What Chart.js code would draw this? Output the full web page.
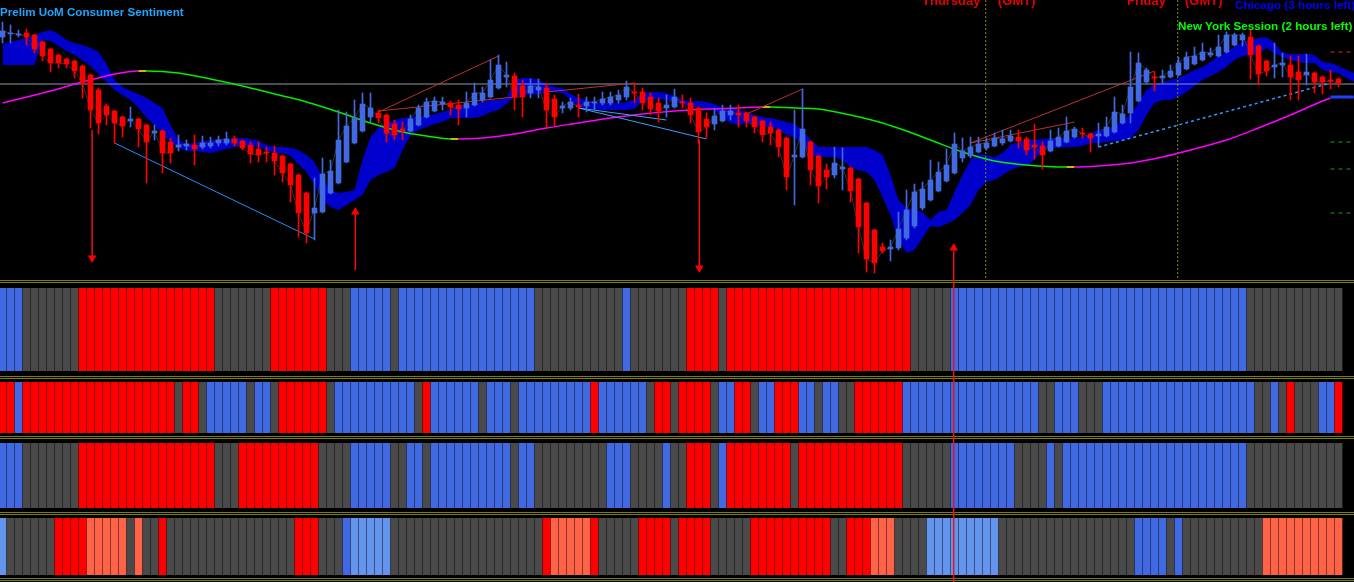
<!DOCTYPE html>
<html lang="en">
<head>
<meta charset="UTF-8">
<title>Prelim UoM Consumer Sentiment</title>
<style>
    body {
        margin: 0;
        background: #000;
        width: 1354px;
        height: 582px;
        overflow: hidden;
        position: relative;
        font-family: "Liberation Sans", Arial, sans-serif;
    }
    canvas { position: absolute; left: 0; display: block; }
    #main { top: 0; z-index: 2; }
    .strip { z-index: 1; }
    .sep { position: absolute; left: 0; width: 1354px; height: 1px; background: #808000; z-index: 1; }
    .lbl { position: absolute; font-weight: bold; white-space: nowrap; line-height: 1; z-index: 3; }
</style>
</head>
<body>
<canvas id="main" width="1354" height="582"></canvas>
<canvas id="s1" class="strip" width="1354" height="83" style="top:288px"></canvas>
<canvas id="s2" class="strip" width="1354" height="51" style="top:382px"></canvas>
<canvas id="s3" class="strip" width="1354" height="65" style="top:443px"></canvas>
<canvas id="s4" class="strip" width="1354" height="57" style="top:518px"></canvas>

<div class="sep" style="top:280px"></div><div class="sep" style="top:282px"></div>
<div class="sep" style="top:376px"></div><div class="sep" style="top:378px"></div>
<div class="sep" style="top:436px"></div><div class="sep" style="top:438px"></div>
<div class="sep" style="top:512px"></div><div class="sep" style="top:514px"></div>
<div class="sep" style="top:578px"></div><div class="sep" style="top:580px"></div>

<div class="lbl" style="left:0;top:6px;font-size:11.6px;color:#1ea5ff">Prelim UoM Consumer Sentiment</div>
<div class="lbl" style="left:922px;top:-6px;font-size:13px;color:#e60000">Thursday</div>
<div class="lbl" style="left:998px;top:-6px;font-size:13px;color:#e60000">(GMT)</div>
<div class="lbl" style="left:1127px;top:-6px;font-size:13px;color:#e60000">Friday</div>
<div class="lbl" style="left:1185px;top:-6px;font-size:13px;color:#e60000">(GMT)</div>
<div class="lbl" style="left:1235px;top:-1px;font-size:11.7px;color:#0000ff">Chicago (3 hours left)</div>
<div class="lbl" style="left:1178px;top:19.5px;font-size:11.7px;color:#00ff00">New York Session (2 hours left)</div>

<script src="https://cdn.jsdelivr.net/npm/chart.js@4/dist/chart.umd.min.js"></script>
<script>
// candles, one per bar (bar index = position in array)
const opens = [
    1.1963, 1.1966, 1.1965, 1.1967, 1.1965, 1.1958, 1.1951, 1.1945, 1.1941, 1.1939,
    1.1934, 1.1925, 1.1910, 1.1894, 1.1889, 1.1883, 1.1879, 1.1881, 1.1875, 1.1867,
    1.1869, 1.1858, 1.1853, 1.1854, 1.1855, 1.1853, 1.1854, 1.1857, 1.1857, 1.1861,
    1.1859, 1.1855, 1.1851, 1.1848, 1.1847, 1.1844, 1.1836, 1.1825, 1.1807, 1.1787,
    1.1788, 1.1807, 1.1817, 1.1838, 1.1857, 1.1869, 1.1883, 1.1887, 1.1885, 1.1876,
    1.1871, 1.1869, 1.1875, 1.1883, 1.1889, 1.1896, 1.1897, 1.1895, 1.1892, 1.1895,
    1.1900, 1.1903, 1.1912, 1.1923, 1.1924, 1.1914, 1.1907, 1.1910, 1.1912, 1.1901,
    1.1892, 1.1892, 1.1895, 1.1894, 1.1897, 1.1897, 1.1897, 1.1900, 1.1903, 1.1908,
    1.1908, 1.1903, 1.1897, 1.1892, 1.1893, 1.1898, 1.1897, 1.1892, 1.1881, 1.1876,
    1.1879, 1.1885, 1.1887, 1.1887, 1.1883, 1.1879, 1.1873, 1.1870, 1.1862, 1.1843,
    1.1843, 1.1858, 1.1844, 1.1830, 1.1825, 1.1831, 1.1832, 1.1821, 1.1797, 1.1770,
    1.1753, 1.1751, 1.1752, 1.1762, 1.1774, 1.1792, 1.1800, 1.1809, 1.1819, 1.1827,
    1.1842, 1.1844, 1.1848, 1.1852, 1.1854, 1.1857, 1.1859, 1.1863, 1.1861, 1.1855,
    1.1854, 1.1849, 1.1854, 1.1858, 1.1863, 1.1867, 1.1866, 1.1864, 1.1864, 1.1868,
    1.1877, 1.1887, 1.1899, 1.1918, 1.1923, 1.1922, 1.1923, 1.1925, 1.1931, 1.1936,
    1.1940, 1.1945, 1.1944, 1.1948, 1.1955, 1.1960, 1.1963, 1.1954, 1.1939, 1.1933,
    1.1935, 1.1935, 1.1928, 1.1925, 1.1927, 1.1923, 1.1920, 1.1921
];
const highs = [
    1.1978, 1.1975, 1.1970, 1.1971, 1.1966, 1.1959, 1.1952, 1.1946, 1.1942, 1.1940,
    1.1935, 1.1926, 1.1912, 1.1896, 1.1890, 1.1884, 1.1893, 1.1882, 1.1876, 1.1875,
    1.1870, 1.1862, 1.1865, 1.1860, 1.1865, 1.1864, 1.1863, 1.1864, 1.1868, 1.1864,
    1.1860, 1.1858, 1.1858, 1.1853, 1.1854, 1.1845, 1.1837, 1.1826, 1.1808, 1.1822,
    1.1842, 1.1840, 1.1890, 1.1888, 1.1900, 1.1907, 1.1907, 1.1890, 1.1886, 1.1880,
    1.1878, 1.1885, 1.1895, 1.1902, 1.1903, 1.1903, 1.1899, 1.1900, 1.1908, 1.1917,
    1.1913, 1.1940, 1.1945, 1.1938, 1.1927, 1.1920, 1.1921, 1.1921, 1.1917, 1.1905,
    1.1898, 1.1902, 1.1906, 1.1903, 1.1903, 1.1908, 1.1908, 1.1910, 1.1919, 1.1917,
    1.1912, 1.1907, 1.1902, 1.1905, 1.1911, 1.1905, 1.1902, 1.1893, 1.1887, 1.1892,
    1.1895, 1.1895, 1.1895, 1.1888, 1.1884, 1.1880, 1.1878, 1.1871, 1.1863, 1.1890,
    1.1911, 1.1859, 1.1845, 1.1836, 1.1853, 1.1852, 1.1833, 1.1822, 1.1798, 1.1771,
    1.1757, 1.1760, 1.1788, 1.1810, 1.1816, 1.1818, 1.1840, 1.1838, 1.1851, 1.1867,
    1.1862, 1.1863, 1.1863, 1.1862, 1.1867, 1.1870, 1.1870, 1.1870, 1.1863, 1.1876,
    1.1858, 1.1870, 1.1872, 1.1883, 1.1873, 1.1872, 1.1867, 1.1877, 1.1883, 1.1903,
    1.1895, 1.1948, 1.1947, 1.1932, 1.1928, 1.1930, 1.1935, 1.1943, 1.1948, 1.1953,
    1.1957, 1.1952, 1.1965, 1.1968, 1.1967, 1.1967, 1.1970, 1.1955, 1.1940, 1.1957,
    1.1947, 1.1944, 1.1944, 1.1946, 1.1928, 1.1924, 1.1930, 1.1922
];
const lows = [
    1.1957, 1.1957, 1.1963, 1.1955, 1.1947, 1.1939, 1.1928, 1.1932, 1.1932, 1.1922,
    1.1902, 1.1872, 1.1866, 1.1875, 1.1857, 1.1863, 1.1873, 1.1853, 1.1817, 1.1860,
    1.1827, 1.1837, 1.1849, 1.1850, 1.1835, 1.1851, 1.1852, 1.1854, 1.1855, 1.1854,
    1.1850, 1.1837, 1.1838, 1.1838, 1.1825, 1.1818, 1.1798, 1.1763, 1.1757, 1.1760,
    1.1787, 1.1806, 1.1816, 1.1837, 1.1856, 1.1868, 1.1878, 1.1877, 1.1858, 1.1860,
    1.1860, 1.1868, 1.1874, 1.1882, 1.1888, 1.1890, 1.1885, 1.1875, 1.1883, 1.1894,
    1.1898, 1.1902, 1.1911, 1.1913, 1.1890, 1.1883, 1.1902, 1.1902, 1.1873, 1.1874,
    1.1887, 1.1890, 1.1883, 1.1888, 1.1890, 1.1895, 1.1895, 1.1897, 1.1900, 1.1897,
    1.1890, 1.1885, 1.1878, 1.1883, 1.1892, 1.1892, 1.1877, 1.1857, 1.1862, 1.1870,
    1.1878, 1.1880, 1.1873, 1.1873, 1.1867, 1.1858, 1.1855, 1.1843, 1.1810, 1.1795,
    1.1842, 1.1815, 1.1797, 1.1811, 1.1822, 1.1810, 1.1798, 1.1747, 1.1728, 1.1727,
    1.1747, 1.1739, 1.1750, 1.1760, 1.1772, 1.1790, 1.1799, 1.1808, 1.1818, 1.1826,
    1.1838, 1.1842, 1.1847, 1.1850, 1.1853, 1.1855, 1.1858, 1.1852, 1.1845, 1.1841,
    1.1831, 1.1848, 1.1853, 1.1857, 1.1862, 1.1862, 1.1848, 1.1853, 1.1863, 1.1867,
    1.1876, 1.1877, 1.1898, 1.1916, 1.1909, 1.1917, 1.1922, 1.1924, 1.1930, 1.1935,
    1.1939, 1.1943, 1.1943, 1.1947, 1.1954, 1.1954, 1.1921, 1.1915, 1.1924, 1.1922,
    1.1923, 1.1900, 1.1900, 1.1915, 1.1907, 1.1906, 1.1911, 1.1913
];
const closes = [
    1.1969, 1.1967, 1.1966, 1.1963, 1.1951, 1.1944, 1.1937, 1.1937, 1.1936, 1.1929,
    1.1917, 1.1890, 1.1877, 1.1885, 1.1877, 1.1874, 1.1881, 1.1871, 1.1858, 1.1869,
    1.1847, 1.1847, 1.1855, 1.1856, 1.1851, 1.1857, 1.1857, 1.1860, 1.1861, 1.1857,
    1.1852, 1.1846, 1.1845, 1.1847, 1.1839, 1.1827, 1.1815, 1.1787, 1.1767, 1.1792,
    1.1826, 1.1829, 1.1860, 1.1874, 1.1882, 1.1896, 1.1892, 1.1882, 1.1867, 1.1865,
    1.1869, 1.1881, 1.1892, 1.1898, 1.1899, 1.1898, 1.1893, 1.1891, 1.1897, 1.1907,
    1.1907, 1.1920, 1.1935, 1.1925, 1.1903, 1.1903, 1.1914, 1.1913, 1.1890, 1.1883,
    1.1894, 1.1898, 1.1893, 1.1898, 1.1898, 1.1901, 1.1903, 1.1905, 1.1913, 1.1907,
    1.1897, 1.1891, 1.1889, 1.1895, 1.1903, 1.1897, 1.1885, 1.1868, 1.1873, 1.1884,
    1.1889, 1.1889, 1.1885, 1.1879, 1.1873, 1.1865, 1.1867, 1.1853, 1.1823, 1.1845,
    1.1871, 1.1830, 1.1814, 1.1823, 1.1837, 1.1833, 1.1809, 1.1773, 1.1741, 1.1737,
    1.1749, 1.1753, 1.1771, 1.1790, 1.1808, 1.1811, 1.1820, 1.1828, 1.1835, 1.1856,
    1.1849, 1.1853, 1.1856, 1.1857, 1.1862, 1.1861, 1.1864, 1.1859, 1.1850, 1.1853,
    1.1845, 1.1859, 1.1863, 1.1869, 1.1871, 1.1866, 1.1862, 1.1866, 1.1873, 1.1888,
    1.1886, 1.1913, 1.1937, 1.1930, 1.1922, 1.1924, 1.1929, 1.1937, 1.1943, 1.1944,
    1.1948, 1.1947, 1.1953, 1.1965, 1.1965, 1.1965, 1.1945, 1.1926, 1.1929, 1.1935,
    1.1937, 1.1923, 1.1920, 1.1928, 1.1918, 1.1918, 1.1919, 1.1917
];

// ichimoku cloud edges (runs 2 bars past the last candle)
const cloudTop = [
    1.1956, 1.1958, 1.1960, 1.1962, 1.1965, 1.1968, 1.1970, 1.1966, 1.1960, 1.1957,
    1.1955, 1.1952, 1.1948, 1.1936, 1.1920, 1.1913, 1.1909, 1.1906, 1.1902, 1.1897,
    1.1892, 1.1875, 1.1860, 1.1856, 1.1857, 1.1859, 1.1860, 1.1861, 1.1861, 1.1862,
    1.1862, 1.1861, 1.1859, 1.1855, 1.1853, 1.1853, 1.1852, 1.1850, 1.1845, 1.1838,
    1.1822, 1.1810, 1.1807, 1.1808, 1.1810, 1.1840, 1.1863, 1.1872, 1.1877, 1.1880,
    1.1882, 1.1883, 1.1883, 1.1884, 1.1886, 1.1888, 1.1890, 1.1894, 1.1895, 1.1896,
    1.1898, 1.1900, 1.1900, 1.1902, 1.1920, 1.1922, 1.1922, 1.1920, 1.1916, 1.1913,
    1.1912, 1.1906, 1.1902, 1.1900, 1.1897, 1.1897, 1.1897, 1.1897, 1.1898, 1.1900,
    1.1907, 1.1908, 1.1908, 1.1907, 1.1904, 1.1900, 1.1899, 1.1899, 1.1898, 1.1896,
    1.1892, 1.1891, 1.1890, 1.1888, 1.1885, 1.1883, 1.1882, 1.1880, 1.1878, 1.1876,
    1.1870, 1.1860, 1.1853, 1.1853, 1.1853, 1.1853, 1.1853, 1.1853, 1.1853, 1.1850,
    1.1845, 1.1825, 1.1800, 1.1792, 1.1790, 1.1788, 1.1780, 1.1788, 1.1790, 1.1808,
    1.1825, 1.1840, 1.1846, 1.1845, 1.1843, 1.1847, 1.1855, 1.1858, 1.1860, 1.1860,
    1.1861, 1.1862, 1.1862, 1.1862, 1.1862, 1.1863, 1.1867, 1.1870, 1.1872, 1.1873,
    1.1880, 1.1885, 1.1897, 1.1910, 1.1916, 1.1918, 1.1920, 1.1922, 1.1926, 1.1930,
    1.1933, 1.1938, 1.1944, 1.1948, 1.1953, 1.1958, 1.1960, 1.1962, 1.1963, 1.1957,
    1.1947, 1.1946, 1.1946, 1.1946, 1.1945, 1.1938, 1.1937, 1.1934, 1.1930, 1.1927
];
const cloudBottom = [
    1.1935, 1.1935, 1.1935, 1.1935, 1.1935, 1.1960, 1.1959, 1.1954, 1.1949, 1.1945,
    1.1940, 1.1934, 1.1926, 1.1918, 1.1910, 1.1905, 1.1900, 1.1892, 1.1882, 1.1875,
    1.1866, 1.1858, 1.1852, 1.1849, 1.1849, 1.1848, 1.1847, 1.1849, 1.1851, 1.1853,
    1.1854, 1.1854, 1.1853, 1.1850, 1.1847, 1.1847, 1.1844, 1.1836, 1.1828, 1.1815,
    1.1800, 1.1793, 1.1790, 1.1795, 1.1800, 1.1805, 1.1820, 1.1825, 1.1828, 1.1832,
    1.1850, 1.1865, 1.1870, 1.1873, 1.1876, 1.1878, 1.1882, 1.1882, 1.1882, 1.1882,
    1.1884, 1.1888, 1.1890, 1.1896, 1.1904, 1.1905, 1.1905, 1.1906, 1.1907, 1.1908,
    1.1907, 1.1900, 1.1893, 1.1892, 1.1891, 1.1890, 1.1890, 1.1890, 1.1890, 1.1891,
    1.1899, 1.1900, 1.1901, 1.1900, 1.1898, 1.1896, 1.1894, 1.1893, 1.1892, 1.1890,
    1.1882, 1.1877, 1.1875, 1.1877, 1.1875, 1.1873, 1.1873, 1.1870, 1.1865, 1.1863,
    1.1855, 1.1845, 1.1843, 1.1843, 1.1843, 1.1840, 1.1833, 1.1830, 1.1828, 1.1820,
    1.1803, 1.1785, 1.1760, 1.1747, 1.1750, 1.1762, 1.1774, 1.1773, 1.1776, 1.1780,
    1.1787, 1.1795, 1.1810, 1.1818, 1.1820, 1.1825, 1.1830, 1.1833, 1.1834, 1.1840,
    1.1850, 1.1852, 1.1852, 1.1853, 1.1853, 1.1854, 1.1857, 1.1857, 1.1858, 1.1859,
    1.1860, 1.1862, 1.1870, 1.1885, 1.1897, 1.1900, 1.1900, 1.1903, 1.1908, 1.1914,
    1.1920, 1.1924, 1.1928, 1.1933, 1.1940, 1.1944, 1.1945, 1.1946, 1.1952, 1.1947,
    1.1943, 1.1940, 1.1938, 1.1937, 1.1937, 1.1930, 1.1928, 1.1927, 1.1922, 1.1918
];

// slow moving average, read at [bar, price]
const maPoints = [
    [0, 1.1897], [6, 1.1909], [10, 1.1918], [12, 1.1922], [14, 1.1926], [17, 1.1929], [18, 1.1929],
    [22, 1.1927], [26, 1.1921], [30, 1.1914], [34, 1.1906], [38, 1.1898], [42, 1.1888], [46, 1.1877],
    [50, 1.1868], [53, 1.1864], [56, 1.1861], [57, 1.1861], [60, 1.1862], [64, 1.1866], [68, 1.1872],
    [72, 1.1877], [76, 1.1882], [80, 1.1886], [84, 1.1889], [88, 1.1891], [92, 1.1892], [95, 1.1893],
    [96, 1.1893], [99, 1.1892], [102, 1.1891], [106, 1.1885], [110, 1.1877], [113, 1.1869], [116, 1.1860],
    [120, 1.1848], [124, 1.1839], [128, 1.1835], [133, 1.1833], [134, 1.1833], [137, 1.1834], [141, 1.1837],
    [145, 1.1843], [149, 1.1851], [153, 1.1860], [157, 1.1872], [161, 1.1885], [165, 1.1899], [166, 1.1902]
];
const baseLevel = [[166, 1.1903], [168.9, 1.1903]];
const dayLevel = 1.1916;

// drawn trend lines, [bar, price]
const redTrends = [
    [[47, 1.1888], [62, 1.1944]],
    [[47, 1.1889], [64, 1.1903]],
    [[68, 1.1908], [79, 1.1917], [79, 1.1907]],
    [[93, 1.1886], [100, 1.1911]],
    [[121, 1.1857], [144, 1.1929]],
    [[121, 1.1857], [134, 1.1878]]
];
const blueTrends = [
    [[14, 1.1857], [39, 1.1761], [39, 1.1822]],
    [[72, 1.1892], [88, 1.1861]],
    [[72, 1.1892], [83, 1.1880]]
];
const blueDashTrend = [[137, 1.1853], [166, 1.1917]];

// signal arrows: bar, tail price, head price
const arrowBars = [11.2, 44.1, 87.1, 118.9];
const arrowTails = [1.1870, 1.1730, 1.1860, 1.1418];
const arrowHeads = [1.1742, 1.1788, 1.1732, 1.1752];

// session separators and right-edge levels
const sessionBars = [122.9, 146.9];
const redLevels = [1.1976, 1.1948];
const greenLevels = [1.1858, 1.1831, 1.1787];

// indicator strips: B up, R down, G neutral, T weak down, C weak up
const strip1 = ('BBBGGGGGGG RRRRRRRRRR RRRRRRRGGG GGGGRRRRRR RGGGBBBBBG BBBBBBBBBB BBBBBBBGGG GGGGGGGGBG ' +
    'GGGGGGRRRR GRRRRRRRRR RRRRRRRRRR RRRRGGGGGB BBBBBBBBBB BBBBBBBBBB BBBBBBBBBB BBBBBBGGGG GGGGGGGG').replace(/ /g, '');
const strip2 = ('RRBRRRRRRR RRRRRRRRRR RRGRRGBBBB BGBBGRRRRR RGBBBBBBBB BBGRBBBBBB GBBBGBBBBB BBBBRBBBBB ' +
    'BGRRGRRRRG BBRRGBBRRR BBGBBGGRRR RRRBBBBBBB BBBBBBBBBB GGBBBGGGBB BBBBBBBBBB BBBBBBBGGB GRGGGBBR').replace(/ /g, '');
const strip3 = ('BBBGGGGGGG RRRRRRRRRR RRRRRRRGGG RRRRRRRRRR GGGGBBBBBG GBBGBBBBBB BBBBGBBGGG GGGGGGBBBG ' +
    'GGGBGGRRRG BRRRRRRRRG RRRRRRRRRR RRRGGGGGGB BBBBBBBGGG GBGBBBBBBB BBBBBBBBBB BBBBBBGGGG GGGGGGGG').replace(/ /g, '');
const strip4 = ('CGGGGGGRRR RTTTTTGTGG RGGGGGGGGG GGGGGGGRRR GGGBCCCCCG GGGGGGGGGG GGGGGGGGRT TTTTRGGGGG ' +
    'RRRRGRRRRG GGGGRRRRRR RRRRGGRRRT TTGGGGCCCC CCCCCGGGGG GGGGGGGGGG GGBBBBGBGG GGGGGGGGTT TTTTTTTT').replace(/ /g, '');

const stripColors = { B: '#4169e1', R: '#ff0000', G: '#4a4a4a', T: '#ff6347', C: '#6495ed' };
const upColor = '#4169e1';
const downColor = '#ff0000';

// shared x axis: 8 px per bar, bar 0 centred at 2.5 px
const xAxis = { type: 'linear', min: -0.3125, max: 168.9375, offset: false, display: false };
const common = {
    responsive: false,
    animation: false,
    devicePixelRatio: 1,
    events: [],
    layout: { padding: 0, autoPadding: false },
    plugins: { legend: { display: false }, tooltip: { enabled: false } }
};

function pts(list) {
    return list.map(p => ({ x: p[0], y: p[1] }));
}

function lineSet(data, color, width, order, extra) {
    return Object.assign({
        type: 'line',
        data: data,
        borderColor: color,
        borderWidth: width,
        pointRadius: 0,
        fill: false,
        tension: 0,
        order: order
    }, extra || {});
}

const datasets = [];

// arrows
arrowBars.forEach((x, k) => {
    const down = arrowHeads[k] < arrowTails[k];
    datasets.push(lineSet([{ x: x, y: arrowTails[k] }, { x: x, y: arrowHeads[k] }], '#ee1111', 1.5, 0, {
        pointRadius: [0, 5],
        pointStyle: 'triangle',
        pointRotation: down ? 180 : 0,
        pointBackgroundColor: '#ff0000',
        pointBorderColor: '#ff0000',
        pointBorderWidth: 0
    }));
});

// candles
const bodyData = opens.map((o, i) => ({ x: i, y: [o, closes[i]] }));
const wickData = highs.map((h, i) => ({ x: i, y: [lows[i], h] }));
const candleColors = opens.map((o, i) => closes[i] >= o ? upColor : downColor);
datasets.push({
    type: 'bar', data: bodyData, backgroundColor: candleColors, barThickness: 5,
    grouped: false, minBarLength: 1, order: 1
});
datasets.push({
    type: 'bar', data: wickData, backgroundColor: candleColors, barThickness: 1,
    grouped: false, order: 2
});

// trend lines
redTrends.forEach(t => datasets.push(lineSet(pts(t), '#b83232', 1, 3)));
blueTrends.forEach((t, k) => datasets.push(lineSet(pts(t), k === 0 ? '#1e90ff' : '#3aa0ff', 1, 3)));
datasets.push(lineSet(pts(blueDashTrend), '#3399ff', 1.5, 3, { borderDash: [3, 3] }));

// right edge levels
redLevels.forEach(p => datasets.push(lineSet([{ x: 166, y: p }, { x: 168.9, y: p }], '#dd2222', 1, 3, { borderDash: [4, 4] })));
greenLevels.forEach(p => datasets.push(lineSet([{ x: 166, y: p }, { x: 168.9, y: p }], '#1f9a1f', 1, 3, { borderDash: [4, 4] })));

// session separators
sessionBars.forEach(x => datasets.push(lineSet([{ x: x, y: 1.2000 }, { x: x, y: 1.1722 }], '#8a8a00', 1, 6, { borderDash: [2, 2] })));

// moving average, magenta when rising, green when falling
datasets.push(lineSet(pts(maPoints), '#ff00ff', 1.5, 4, {
    cubicInterpolationMode: 'monotone',
    segment: {
        borderColor: c => {
            const d = c.p1.parsed.y - c.p0.parsed.y;
            return d > 0 ? '#ff00ff' : (d < 0 ? '#00ee00' : '#ffff00');
        }
    }
}));
datasets.push(lineSet(pts(baseLevel), '#2040ff', 3, 4));

// closing price line
datasets.push(lineSet(closes.map((c, i) => ({ x: i, y: c })), '#333333', 1, 5));

// day level
datasets.push(lineSet([{ x: -0.3125, y: dayLevel }, { x: 168.9375, y: dayLevel }], '#8a99a6', 1, 6));

// cloud
datasets.push(lineSet(cloudTop.map((v, i) => ({ x: i, y: v })), 'rgba(0,0,0,0)', 0, 8));
datasets.push(lineSet(cloudBottom.map((v, i) => ({ x: i, y: v })), 'rgba(0,0,0,0)', 0, 7, {
    fill: '-1',
    backgroundColor: '#0000cd'
}));

new Chart(document.getElementById('main'), {
    type: 'bar',
    data: { datasets: datasets },
    options: Object.assign({}, common, {
        scales: {
            x: xAxis,
            y: { type: 'linear', min: 1.1418, max: 1.2000, display: false }
        }
    })
});

// strips
function drawStrip(id, codes) {
    const letters = codes.split('');
    new Chart(document.getElementById(id), {
        type: 'bar',
        data: {
            datasets: [{
                data: letters.map((c, i) => ({ x: i, y: [0, 1] })),
                backgroundColor: letters.map(c => stripColors[c]),
                barThickness: 7
            }]
        },
        options: Object.assign({}, common, {
            scales: {
                x: xAxis,
                y: { min: 0, max: 1, display: false }
            }
        })
    });
}

drawStrip('s1', strip1);
drawStrip('s2', strip2);
drawStrip('s3', strip3);
drawStrip('s4', strip4);
</script>
</body>
</html>
